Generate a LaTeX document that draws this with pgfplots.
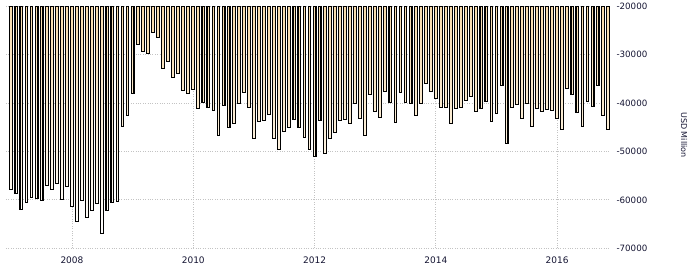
\documentclass[border=0pt]{standalone}
\usepackage{pgfplots}
\pgfplotsset{compat=1.18}
\usepackage{pgfplotstable}
\usepackage{fontspec}
\setmainfont{DejaVu Sans}
\definecolor{barTan}{RGB}{247,218,170}
\definecolor{txt}{RGB}{20,20,50}
\definecolor{gridc}{RGB}{195,195,195}
\pgfplotstableread{
m v
0 -57800
1 -58600
2 -61900
3 -60500
4 -59500
5 -59700
6 -60100
7 -57000
8 -57800
9 -56600
10 -59900
11 -57200
12 -61300
13 -64400
14 -60100
15 -63600
16 -62200
17 -60700
18 -66900
19 -62200
20 -60500
21 -60300
22 -44800
23 -42500
24 -38000
25 -27900
26 -29300
27 -29700
28 -25400
29 -26400
30 -32800
31 -31400
32 -34700
33 -33800
34 -37400
35 -38000
36 -37200
37 -41100
38 -39800
39 -40900
40 -41500
41 -46700
42 -40500
43 -45000
44 -44200
45 -40000
46 -37800
47 -40900
48 -47300
49 -43800
50 -43600
51 -42300
52 -47300
53 -49600
54 -45800
55 -45000
56 -43400
57 -45000
58 -47100
59 -49600
60 -51000
61 -43600
62 -50400
63 -47300
64 -46000
65 -43600
66 -43400
67 -44200
68 -40000
69 -43100
70 -46700
71 -38200
72 -41700
73 -42900
74 -37600
75 -39800
76 -44000
77 -37800
78 -39800
79 -40000
80 -42500
81 -40000
82 -35900
83 -37600
84 -39000
85 -40900
86 -40900
87 -44200
88 -41100
89 -40900
90 -39400
91 -38600
92 -41700
93 -41100
94 -39600
95 -43800
96 -42100
97 -36300
98 -48300
99 -40900
100 -40300
101 -43100
102 -40000
103 -44800
104 -41100
105 -41700
106 -41300
107 -41500
108 -43100
109 -45400
110 -36900
111 -38200
112 -41900
113 -44800
114 -39600
115 -40700
116 -36300
117 -42500
118 -45400
}\datatable
\begin{document}
\begin{tikzpicture}
\begin{axis}[
  name=ax,
  scale only axis, width=604pt, height=242pt,
  xmin=-1.05, xmax=118.45, ymin=-70000, ymax=-20000,
  ybar stacked, bar width=0.55,
  axis line style={draw=none},
  major tick length=0pt,
  scaled y ticks=false,
  xtick={12,36,60,84,108}, xticklabels={2008,2010,2012,2014,2016},
  ytick={-70000,-60000,-50000,-40000,-30000,-20000},
  yticklabels={-70000,-60000,-50000,-40000,-30000,-20000},
  yticklabel pos=right,
  grid=major, grid style={gridc, line width=0.8pt, dash pattern=on 0.8pt off 1.6pt},
  x tick label style={font=\fontsize{9}{10}\selectfont, text=txt, anchor=north, yshift=-5pt},
  y tick label style={font=\fontsize{8.7}{10}\selectfont, text=txt, anchor=west, xshift=3pt},
  every axis y label/.style={at={(rel axis cs:1,0.468)}, xshift=74pt, rotate=-90, anchor=center, font=\fontsize{8}{10}\selectfont, text=txt},
  ylabel={USD Million},
]
\addplot[draw=none, fill=none] table[x=m, y expr=-20000] {\datatable};
\addplot[draw=black, line width=1.1pt, top color=barTan, bottom color=white] table[x=m, y expr=\thisrow{v}+20000] {\datatable};
\end{axis}
\pgfresetboundingbox
\path[use as bounding box] ([shift={(-6pt,-24.7pt)}]ax.south west) rectangle ++(694pt,273pt);
\end{tikzpicture}
\end{document}
